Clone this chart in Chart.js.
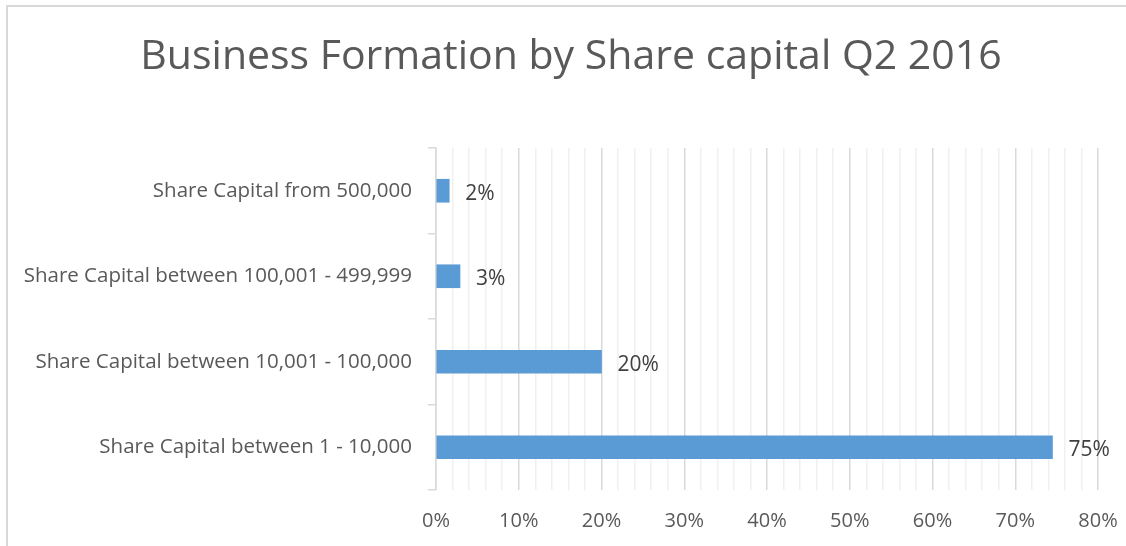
<!DOCTYPE html>
<html>
<head>
<meta charset="utf-8">
<script src="https://cdn.jsdelivr.net/npm/chart.js@4/dist/chart.umd.min.js"></script>
<style>
  html, body { margin: 0; padding: 0; background: #fff; }
  #wrap { position: relative; width: 1126px; height: 546px; overflow: hidden; }
  #frame { position: absolute; left: 6px; top: 5px; right: -10px; bottom: -10px;
           border-top: 2px solid #d9d9d9; border-left: 2px solid #d9d9d9; }
  #chart { position: absolute; left: 0; top: 0; }
</style>
</head>
<body>
<div id="wrap">
  <div id="frame"></div>
  <canvas id="chart" width="1126" height="546"></canvas>
</div>
<script>
// -----------------------------
// Data
// -----------------------------
const chartTitle = "Business Formation by Share capital Q2 2016";
const categories = [
    "Share Capital from 500,000",
    "Share Capital between 100,001 - 499,999",
    "Share Capital between 10,001 - 100,000",
    "Share Capital between 1 - 10,000"
];
const shares = [1.6, 2.9, 20.0, 74.5];   // percent
const xTicks = [0, 10, 20, 30, 40, 50, 60, 70, 80];

const FONT = "'Open Sans', sans-serif";

// -----------------------------
// Title (centred over the whole chart like Excel)
// -----------------------------
const titlePlugin = {
    id: "bigTitle",
    afterDraw(chart) {
        const c = chart.ctx;
        c.save();
        c.font = "41px " + FONT;
        c.fillStyle = "#595959";
        c.textAlign = "center";
        c.textBaseline = "alphabetic";
        c.fillText(chartTitle, 571, 69);
        c.restore();
    }
};

// -----------------------------
// Value labels at bar ends
// -----------------------------
const barLabels = {
    id: "barLabels",
    afterDatasetsDraw(chart) {
        const c = chart.ctx;
        const meta = chart.getDatasetMeta(0);
        c.save();
        c.font = "21px " + FONT;
        c.fillStyle = "#404040";
        c.textAlign = "left";
        c.textBaseline = "middle";
        meta.data.forEach((bar, i) => {
            const txt = Math.round(shares[i]) + "%";
            c.fillText(txt, bar.x + 16, bar.y + 3);
        });
        c.restore();
    }
};

const ctx = document.getElementById("chart").getContext("2d");
new Chart(ctx, {
    type: "bar",
    data: {
        labels: categories,
        datasets: [{
            data: shares,
            backgroundColor: "#5b9bd5",
            barThickness: 23
        }]
    },
    options: {
        indexAxis: "y",
        responsive: false,
        animation: false,
        layout: { padding: { left: 0, right: 28, top: 148, bottom: 0 } },
        plugins: {
            legend: { display: false },
            tooltip: { enabled: false },
            title: { display: false }
        },
        scales: {
            x: {
                min: 0,
                max: 80,
                ticks: {
                    stepSize: 2,
                    autoSkip: false,
                    maxRotation: 0,
                    color: "#595959",
                    font: { family: FONT, size: 20 },
                    padding: 19,
                    callback: v => xTicks.includes(v) ? v + "%" : ""
                },
                grid: {
                    drawTicks: false,
                    color: c => (c.tick && c.tick.value % 10 === 0) ? "#d9d9d9" : "#f0f0f0",
                    lineWidth: 1.5
                },
                border: { display: false },
                afterFit: s => { s.height = 56; s.paddingRight = 0; s.paddingLeft = 0; }
            },
            y: {
                ticks: {
                    color: "#595959",
                    font: { family: FONT, size: 20.5 },
                    padding: 16
                },
                grid: {
                    offset: true,
                    drawOnChartArea: false,
                    drawTicks: true,
                    tickLength: 8,
                    color: "#d9d9d9",
                    lineWidth: 1.5
                },
                border: { display: true, color: "#d9d9d9", width: 1.5 },
                afterFit: s => { s.width = 436; }
            }
        }
    },
    plugins: [barLabels, titlePlugin]
});
</script>
</body>
</html>
